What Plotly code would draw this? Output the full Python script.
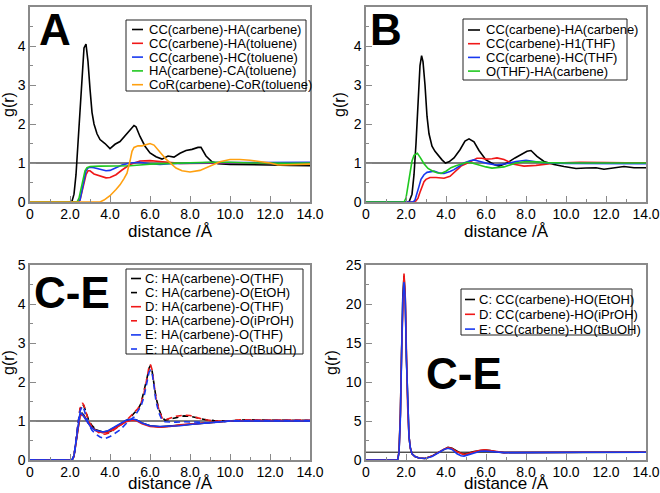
import plotly.graph_objects as go

W, H = 660, 493

# ---------------- Panel A ----------------
A_names = ["CC(carbene)-HA(carbene)", "CC(carbene)-HA(toluene)", "CC(carbene)-HC(toluene)",
           "HA(carbene)-CA(toluene)", "CoR(carbene)-CoR(toluene)"]
a1_x = [0, 2.0, 2.1, 2.2, 2.3, 2.4, 2.5, 2.6, 2.7, 2.8, 2.9, 3.0, 3.1, 3.2, 3.35, 3.5, 3.75, 4.0, 4.25,
        4.5, 4.8, 5.0, 5.2, 5.3, 5.5, 5.75, 6.0, 6.3, 6.6, 6.9, 7.2, 7.5, 7.8, 8.1, 8.4, 8.55, 8.8, 9.1,
        9.4, 10, 11, 12, 13, 14]
a1_y = [0, 0, 0.02, 0.2, 0.7, 1.5, 2.5, 3.4, 3.95, 4.05, 3.6, 2.9, 2.3, 2.0, 1.75, 1.6, 1.5, 1.37, 1.48,
        1.55, 1.72, 1.85, 1.96, 1.93, 1.68, 1.43, 1.26, 1.16, 1.1, 1.18, 1.15, 1.25, 1.32, 1.35, 1.4,
        1.4, 1.18, 1.03, 0.98, 0.96, 0.96, 0.95, 0.94, 0.93]
a2_x = [0, 2.4, 2.5, 2.6, 2.7, 2.8, 2.9, 3.0, 3.2, 3.5, 3.8, 4.0, 4.3, 4.6, 5.0, 5.5, 6.0, 6.5, 7.0,
        7.5, 8, 9, 10, 11, 12, 13, 14]
a2_y = [0, 0, 0.05, 0.25, 0.5, 0.7, 0.8, 0.8, 0.72, 0.66, 0.62, 0.63, 0.7, 0.82, 0.96, 1.05, 1.06,
        1.04, 1.02, 0.99, 0.99, 1.0, 1.0, 1.0, 1.0, 1.0, 1.0]
a3_x = [0, 2.4, 2.5, 2.6, 2.7, 2.8, 2.9, 3.0, 3.2, 3.5, 3.8, 4.0, 4.3, 4.6, 5.0, 5.5, 6.0, 6.5, 7.0,
        8, 9, 10, 11, 12, 13, 14]
a3_y = [0, 0, 0.05, 0.3, 0.6, 0.8, 0.87, 0.89, 0.88, 0.84, 0.8, 0.81, 0.87, 0.95, 1.0, 1.02, 0.98,
        0.96, 0.98, 1.0, 1.01, 1.01, 1.01, 1.01, 1.02, 1.02]
a4_x = [0, 2.35, 2.45, 2.55, 2.65, 2.75, 2.85, 3.0, 3.5, 4.0, 4.5, 5.0, 5.5, 6.0, 7.0, 8.0, 9.0, 10,
        11, 12, 13, 14]
a4_y = [0, 0, 0.1, 0.35, 0.6, 0.8, 0.88, 0.91, 0.92, 0.92, 0.92, 0.93, 0.95, 0.97, 0.99, 1.01, 1.02,
        1.02, 1.0, 1.0, 0.99, 1.0]
a5_x = [0, 3.5, 3.7, 4.0, 4.3, 4.5, 4.7, 4.85, 5.0, 5.1, 5.2, 5.4, 5.6, 5.8, 6.0, 6.2, 6.4, 6.6, 6.8,
        7.0, 7.3, 7.6, 8.0, 8.5, 9.0, 9.5, 10.0, 10.5, 11.0, 11.5, 12.0, 12.4, 13, 13.5, 14]
a5_y = [0, 0, 0.05, 0.16, 0.32, 0.44, 0.6, 0.74, 1.05, 1.3, 1.4, 1.44, 1.44, 1.47, 1.5, 1.46, 1.35,
        1.22, 1.1, 1.0, 0.87, 0.8, 0.77, 0.81, 0.91, 1.03, 1.09, 1.09, 1.07, 1.04, 1.0, 0.95, 0.96,
        0.97, 0.97]

# ---------------- Panel B ----------------
B_names = ["CC(carbene)-HA(carbene)", "CC(carbene)-H1(THF)", "CC(carbene)-HC(THF)", "O(THF)-HA(carbene)"]
b1_x = [0, 2.15, 2.3, 2.4, 2.5, 2.6, 2.7, 2.78, 2.85, 2.95, 3.05, 3.15, 3.3, 3.45, 3.6, 3.8, 3.97,
        4.15, 4.4, 4.7, 4.95, 5.15, 5.4, 5.65, 6.0, 6.4, 6.65, 7.05, 7.45, 7.85, 8.05, 8.25, 8.55,
        8.9, 9.4, 9.9, 10.5, 11, 11.5, 11.9, 12.4, 12.9, 13.4, 14]
b1_y = [0, 0, 0.2, 0.7, 1.5, 2.6, 3.5, 3.75, 3.6, 3.0, 2.2, 1.75, 1.43, 1.3, 1.2, 1.08, 1.0, 1.03,
        1.13, 1.34, 1.56, 1.62, 1.54, 1.32, 1.08, 0.96, 0.92, 1.0, 1.13, 1.24, 1.3, 1.32, 1.17, 1.04,
        0.96, 0.91, 0.86, 0.87, 0.88, 0.84, 0.87, 0.91, 0.88, 0.88]
b2_x = [0, 2.4, 2.5, 2.6, 2.7, 2.8, 2.9, 3.0, 3.2, 3.5, 3.9, 4.2, 4.5, 4.75, 5.0, 5.25, 5.55, 5.8,
        6.0, 6.3, 6.55, 6.9, 7.4, 7.9, 8.5, 9.5, 10.7, 12, 13, 14]
b2_y = [0, 0, 0.03, 0.1, 0.25, 0.4, 0.52, 0.58, 0.63, 0.63, 0.61, 0.66, 0.8, 0.92, 0.98, 1.05, 1.12,
        1.12, 1.1, 1.11, 1.13, 1.09, 0.97, 0.92, 0.94, 1.0, 1.02, 1.01, 1.0, 1.0]
b3_x = [0, 2.35, 2.45, 2.55, 2.65, 2.75, 2.9, 3.05, 3.2, 3.4, 3.7, 3.9, 4.2, 4.4, 4.7, 4.9, 5.2, 5.4,
        5.7, 6.05, 6.5, 7.0, 7.5, 8.0, 8.5, 9.0, 10, 11, 12, 13, 14]
b3_y = [0, 0, 0.05, 0.2, 0.4, 0.58, 0.7, 0.76, 0.78, 0.79, 0.74, 0.73, 0.78, 0.83, 0.93, 1.0, 1.06,
        1.08, 1.04, 0.99, 0.95, 0.98, 1.04, 1.07, 1.03, 1.0, 0.99, 0.99, 0.98, 0.98, 0.98]
b4_x = [0, 1.9, 2.0, 2.1, 2.2, 2.3, 2.4, 2.57, 2.7, 2.9, 3.1, 3.3, 3.55, 3.75, 4.0, 4.25, 4.5, 4.75,
        5.05, 5.3, 5.6, 6.0, 6.3, 6.9, 7.5, 8.0, 8.5, 9.0, 10, 11, 12, 13, 14]
b4_y = [0, 0, 0.1, 0.4, 0.8, 1.05, 1.2, 1.25, 1.15, 0.98, 0.86, 0.8, 0.75, 0.73, 0.79, 0.88, 0.93,
        0.98, 1.02, 1.0, 0.95, 0.9, 0.87, 0.9, 1.0, 1.04, 1.03, 1.01, 1.0, 1.0, 1.0, 1.0, 1.0]

# ---------------- Panel C ----------------
C_names = ["C: HA(carbene)-O(THF)", "C: HA(carbene)-O(EtOH)", "D: HA(carbene)-O(THF)",
           "D: HA(carbene)-O(iPrOH)", "E: HA(carbene)-O(THF)", "E: HA(carbene)-O(tBuOH)"]
c_sol_x = [0, 2.1, 2.2, 2.3, 2.4, 2.5, 2.6, 2.7, 2.85, 3.05, 3.25, 3.45, 3.65, 3.9, 4.2, 4.5, 4.8,
           5.1, 5.3, 5.6, 6.0, 6.5, 7.0, 7.5, 8.0, 8.5, 9.0, 9.5, 10, 11, 12, 13, 14]
c1_y = [0, 0, 0.1, 0.45, 0.9, 1.15, 1.2, 1.14, 1.0, 0.86, 0.78, 0.74, 0.72, 0.74, 0.82, 0.92, 1.0,
        1.04, 1.03, 0.95, 0.88, 0.85, 0.87, 0.9, 0.92, 0.94, 0.96, 0.98, 1.0, 1.01, 1.01, 1.01, 1.01]
c3_y = [0, 0, 0.1, 0.45, 0.88, 1.12, 1.17, 1.12, 0.99, 0.85, 0.77, 0.72, 0.7, 0.72, 0.8, 0.9, 0.98,
        1.02, 1.01, 0.93, 0.86, 0.84, 0.86, 0.9, 0.92, 0.95, 0.96, 0.98, 1.0, 1.01, 1.01, 1.01, 1.01]
c5_y = [0, 0, 0.12, 0.5, 0.95, 1.2, 1.18, 1.1, 0.97, 0.84, 0.76, 0.73, 0.72, 0.75, 0.84, 0.94, 1.02,
        1.05, 1.03, 0.95, 0.88, 0.86, 0.87, 0.88, 0.91, 0.93, 0.95, 0.98, 1.0, 1.0, 1.0, 1.0, 1.0]
c_dash_x = [0, 2.1, 2.2, 2.3, 2.4, 2.5, 2.62, 2.7, 2.8, 2.95, 3.1, 3.3, 3.5, 3.75, 4.0, 4.25, 4.5,
            4.8, 5.0, 5.2, 5.4, 5.55, 5.7, 5.85, 5.95, 6.02, 6.1, 6.2, 6.3, 6.45, 6.6, 6.75, 7.0,
            7.3, 7.7, 8.0, 8.4, 8.8, 9.2, 9.6, 10, 10.5, 11, 12, 13, 14]
c2_y = [0, 0, 0.1, 0.5, 1.0, 1.3, 1.43, 1.38, 1.22, 1.0, 0.88, 0.78, 0.72, 0.7, 0.73, 0.8, 0.9, 1.0,
        1.08, 1.2, 1.3, 1.45, 1.75, 2.1, 2.35, 2.42, 2.3, 1.95, 1.6, 1.3, 1.1, 1.02, 1.05, 1.1, 1.13,
        1.12, 1.07, 1.03, 1.01, 1.0, 1.0, 1.02, 1.03, 1.02, 1.01, 1.01]
c4_y = [0, 0, 0.1, 0.5, 1.0, 1.32, 1.46, 1.4, 1.22, 0.98, 0.85, 0.75, 0.68, 0.66, 0.7, 0.78, 0.88,
        1.0, 1.1, 1.22, 1.32, 1.45, 1.72, 2.1, 2.38, 2.45, 2.32, 1.95, 1.58, 1.28, 1.08, 1.03, 1.07,
        1.12, 1.15, 1.14, 1.08, 1.03, 1.0, 1.0, 1.0, 1.03, 1.03, 1.02, 1.02, 1.02]
c6_y = [0, 0, 0.1, 0.45, 0.95, 1.25, 1.38, 1.3, 1.12, 0.9, 0.76, 0.66, 0.59, 0.55, 0.6, 0.68, 0.77,
        0.93, 1.03, 1.1, 1.25, 1.38, 1.62, 2.0, 2.25, 2.3, 2.25, 1.9, 1.5, 1.2, 1.02, 0.98, 0.97,
        0.97, 0.98, 0.98, 0.97, 0.95, 0.96, 0.98, 1.0, 1.01, 1.01, 1.01, 1.01, 1.01]

# ---------------- Panel D ----------------
D_names = ["C: CC(carbene)-HO(EtOH)", "D: CC(carbene)-HO(iPrOH)", "E: CC(carbene)-HO(tBuOH)"]
d_x = [0, 1.58, 1.65, 1.72, 1.78, 1.84, 1.9, 1.96, 2.02, 2.08, 2.15, 2.22, 2.3, 2.45, 2.65, 2.95,
       3.3, 3.6, 3.9, 4.1, 4.3, 4.55, 4.75, 4.9, 5.1, 5.4, 5.7, 5.95, 6.2, 6.5, 6.9, 7.5, 8, 9, 10,
       11, 12, 13, 14]
d1_y = [0, 0, 1.0, 6.0, 14.0, 21.0, 23.6, 21.0, 13.0, 7.0, 3.0, 1.5, 0.8, 0.45, 0.25, 0.2, 0.5,
        0.95, 1.4, 1.62, 1.5, 1.1, 0.85, 0.75, 0.85, 1.1, 1.25, 1.28, 1.2, 1.05, 0.95, 0.96, 0.98,
        1.0, 1.0, 1.0, 1.0, 1.0, 1.0]
d2_y = [0, 0, 1.0, 6.0, 14.0, 21.2, 23.9, 21.2, 13.2, 7.0, 3.0, 1.5, 0.8, 0.45, 0.25, 0.2, 0.5,
        0.95, 1.38, 1.58, 1.48, 1.05, 0.8, 0.7, 0.82, 1.08, 1.25, 1.3, 1.22, 1.05, 0.95, 0.96, 0.98,
        1.0, 1.0, 1.0, 1.0, 1.0, 1.0]
d3_y = [0, 0, 0.9, 5.5, 13.5, 20.5, 22.8, 20.8, 13.0, 7.0, 3.0, 1.5, 0.8, 0.45, 0.25, 0.2, 0.45,
        0.9, 1.35, 1.5, 1.35, 0.8, 0.55, 0.5, 0.65, 0.95, 1.12, 1.15, 1.1, 1.0, 0.94, 0.95, 0.97,
        1.0, 1.0, 1.0, 1.0, 1.0, 1.0]

x_tickvals = [0, 2, 4, 6, 8, 10, 12, 14]
x_ticktext = ["0", "2.0", "4.0", "6.0", "8.0", "10.0", "12.0", "14.0"]

BLACK, RED, BLUE, GREEN, ORANGE = "#000000", "#f01818", "#1838f0", "#20c820", "#ffa010"
FONT = "Liberation Sans, Arial, Helvetica, sans-serif"
FRAME = "#8a8a8a"
DASH = "6px,4px"

# panel pixel boxes: (left, right, top, bottom)
panels = {
    1: (30, 310, 7, 202),
    2: (366, 646, 7, 202),
    3: (30, 310, 265, 460),
    4: (366, 646, 265, 460),
}

def fx(p):
    return p / W

def fy(p):
    return 1 - p / H

fig = go.Figure()

def add(n, xs, ys, color, dash="solid", width=1.6):
    sfx = "" if n == 1 else str(n)
    fig.add_trace(go.Scatter(x=xs, y=ys, mode="lines", xaxis="x" + sfx, yaxis="y" + sfx,
                             line=dict(color=color, width=width, dash=dash), showlegend=False,
                             hoverinfo="skip"))

A_series = [(a1_x, a1_y, BLACK), (a2_x, a2_y, RED), (a3_x, a3_y, BLUE), (a4_x, a4_y, GREEN),
            (a5_x, a5_y, ORANGE)]
B_series = [(b1_x, b1_y, BLACK), (b2_x, b2_y, RED), (b3_x, b3_y, BLUE), (b4_x, b4_y, GREEN)]
C_series = [(c_sol_x, c1_y, BLACK, "solid"), (c_dash_x, c2_y, BLACK, DASH),
            (c_sol_x, c3_y, RED, "solid"), (c_dash_x, c4_y, RED, DASH),
            (c_sol_x, c5_y, BLUE, "solid"), (c_dash_x, c6_y, BLUE, DASH)]
D_series = [(d_x, d1_y, BLACK), (d_x, d2_y, RED), (d_x, d3_y, BLUE)]

for xs, ys, c in A_series:
    add(1, xs, ys, c)
for xs, ys, c in B_series:
    add(2, xs, ys, c)
for xs, ys, c, d in C_series:
    add(3, xs, ys, c, d)
for xs, ys, c in D_series:
    add(4, xs, ys, c)

layout = dict(width=W, height=H, margin=dict(l=0, r=0, t=0, b=0, autoexpand=False),
              paper_bgcolor="white", plot_bgcolor="white",
              font=dict(family=FONT, color="black"), showlegend=False)

for n, (l, r, t, b) in panels.items():
    sfx = "" if n == 1 else str(n)
    ymax = 25 if n == 4 else 5
    ydt = 5 if n == 4 else 1
    layout["xaxis" + sfx] = dict(
        domain=[fx(l), fx(r)], anchor="y" + sfx, range=[0, 14],
        tickvals=x_tickvals, ticktext=x_ticktext, ticks="inside", ticklen=6, tickwidth=1,
        tickcolor=FRAME, showline=True, linecolor=FRAME, linewidth=1.5, mirror=True,
        showgrid=False, zeroline=False, tickfont=dict(size=14, family=FONT),
        ticklabelstandoff=-2,
        minor=dict(dtick=1, ticks="inside", ticklen=3, tickcolor=FRAME, showgrid=False),
        title=dict(text="distance /Å", font=dict(size=17, family=FONT), standoff=5))
    layout["yaxis" + sfx] = dict(
        domain=[fy(b), fy(t)], anchor="x" + sfx, range=[0, ymax], dtick=ydt, tick0=0,
        ticks="inside", ticklen=6, tickwidth=1, tickcolor=FRAME, showline=True,
        linecolor=FRAME, linewidth=1.5, mirror=True, showgrid=False, zeroline=False,
        tickfont=dict(size=14, family=FONT),
        minor=dict(dtick=ydt / 2, ticks="inside", ticklen=3, tickcolor=FRAME, showgrid=False),
        title=dict(text="g(r)", font=dict(size=16, family=FONT), standoff=4))

fig.update_layout(**layout)

# reference line g(r) = 1
for n in panels:
    sfx = "" if n == 1 else str(n)
    fig.add_shape(type="line", xref="x" + sfx + " domain", yref="y" + sfx, x0=0, x1=1, y0=1, y1=1,
                  line=dict(color="black", width=1), layer="below")

# manual legends (pixel layout)
def legend(box, row0, step, names, colors, dashes, sw0, sw1, tx):
    l, r, t, b = box
    fig.add_shape(type="rect", xref="paper", yref="paper", x0=fx(l), x1=fx(r), y0=fy(b), y1=fy(t),
                  line=dict(color="#222222", width=1), fillcolor="white", layer="above")
    for i, (nm, c, d) in enumerate(zip(names, colors, dashes)):
        yy = row0 + i * step
        fig.add_shape(type="line", xref="paper", yref="paper", x0=fx(sw0), x1=fx(sw1),
                      y0=fy(yy), y1=fy(yy), line=dict(color=c, width=1.6, dash=d), layer="above")
        fig.add_annotation(xref="paper", yref="paper", x=fx(tx), y=fy(yy), text=nm,
                           showarrow=False, xanchor="left", yanchor="middle",
                           font=dict(size=13, family=FONT, color="black"))

legend((126, 306, 20, 91), 29.5, 13.8, A_names, [BLACK, RED, BLUE, GREEN, ORANGE],
       ["solid"] * 5, 132, 143, 147)
legend((463, 627, 19, 80), 30, 13.7, B_names, [BLACK, RED, BLUE, GREEN], ["solid"] * 4,
       468, 480, 484)
legend((126, 303, 269, 354), 278.5, 14.1, C_names, [BLACK, BLACK, RED, RED, BLUE, BLUE],
       ["solid", DASH, "solid", DASH, "solid", DASH], 131, 141, 143)
legend((461, 632, 289, 335), 299.5, 14.8, D_names, [BLACK, RED, BLUE], ["solid"] * 3,
       465, 475, 477)

# panel labels
for txt, px, py in [("A", 55, 30), ("B", 386, 30), ("C-E", 72, 292), ("C-E", 464, 373)]:
    fig.add_annotation(xref="paper", yref="paper", x=fx(px), y=fy(py), text=txt, showarrow=False,
                       xanchor="center", yanchor="middle",
                       font=dict(size=44, family=FONT, color="black", weight="bold"))

fig.write_html("out.html", config={"displayModeBar": False},
               post_script="document.body.style.margin='0';")
